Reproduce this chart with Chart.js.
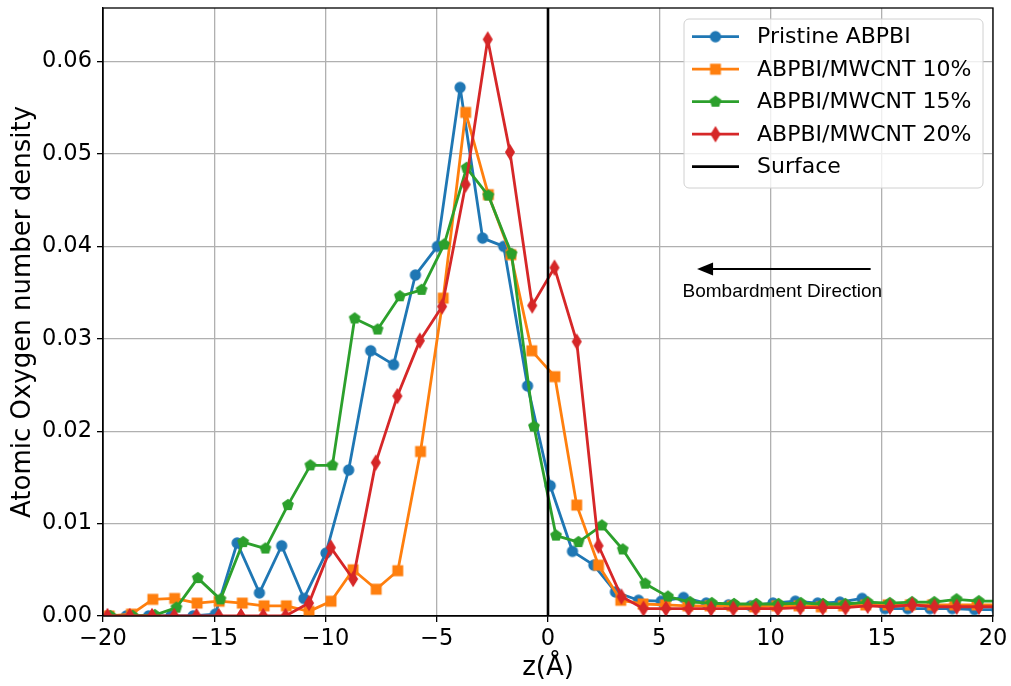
<!DOCTYPE html>
<html>
<head>
<meta charset="utf-8">
<script src="https://cdn.jsdelivr.net/npm/chart.js@4.4.0/dist/chart.umd.min.js"></script>
<style>
  html, body { margin: 0; padding: 0; background: #fff; }
  canvas { display: block; }
</style>
</head>
<body>
<canvas id="densityChart" width="1011" height="686"></canvas>
<script>
// series labels
const seriesLabels = ['Pristine ABPBI', 'ABPBI/MWCNT 10%', 'ABPBI/MWCNT 15%', 'ABPBI/MWCNT 20%'];
const surfaceLabel = 'Surface';

// z positions (Å) for each series
const zPristine = [-18.95, -17.95, -16.95, -15.95, -14.95, -13.97, -12.97, -11.97, -10.97, -9.98,
  -8.96, -7.97, -6.94, -5.96, -4.97, -3.95, -2.94, -1.99, -0.92, 0.1,
  1.1, 2.06, 3.03, 4.07, 5.09, 6.09, 7.11, 8.11, 9.11, 10.11,
  11.12, 12.12, 13.12, 14.12, 15.15, 16.17, 17.17, 18.17, 19.17, 20.17];
const zMw10 = [-19.72, -18.72, -17.76, -16.78, -15.77, -14.78, -13.74, -12.76, -11.76, -10.74,
  -9.75, -8.76, -7.72, -6.75, -5.73, -4.71, -3.7, -2.68, -1.67, -0.73,
  0.31, 1.29, 2.27, 3.27, 4.27, 5.28, 6.28, 7.28, 8.28, 9.28,
  10.28, 11.28, 12.28, 13.28, 14.28, 15.28, 16.28, 17.28, 18.28, 19.28, 20.28];
const zMw15 = [-19.67, -18.67, -17.67, -16.7, -15.74, -14.72, -13.7, -12.7, -11.69, -10.68,
  -9.69, -8.69, -7.66, -6.66, -5.68, -4.67, -3.66, -2.68, -1.64, -0.63,
  0.36, 1.37, 2.42, 3.36, 4.37, 5.39, 6.39, 7.36, 8.36, 9.36,
  10.36, 11.36, 12.36, 13.36, 14.36, 15.36, 16.36, 17.36, 18.36, 19.36, 20.36];
const zMw20 = [-19.8, -18.8, -17.8, -16.8, -15.8, -14.8, -13.8, -12.8, -11.8, -10.74,
  -9.76, -8.76, -7.74, -6.77, -5.76, -4.76, -3.7, -2.71, -1.71, -0.71,
  0.29, 1.29, 2.27, 3.3, 4.29, 5.3, 6.32, 7.33, 8.33, 9.33,
  10.33, 11.34, 12.35, 13.37, 14.37, 15.37, 16.37, 17.37, 18.37, 19.37, 20.37];

// atomic oxygen number density
const densPristine = [0, 0, 0, 0, 0.0002, 0.0079, 0.0025, 0.0076, 0.0019, 0.0068,
  0.0158, 0.0287, 0.0272, 0.0369, 0.0400, 0.0572, 0.0409, 0.0400, 0.0249, 0.0141,
  0.0070, 0.0055, 0.0026, 0.0017, 0.0016, 0.0020, 0.0014, 0.0012, 0.0011, 0.0014,
  0.0016, 0.0014, 0.0015, 0.0019, 0.0008, 0.0008, 0.0008, 0.0008, 0.0007, 0.0007];
const densMw10 = [0, 0.0002, 0.0018, 0.0019, 0.0014, 0.0016, 0.0014, 0.0011, 0.0011, 0.0005,
  0.0016, 0.0050, 0.0029, 0.0049, 0.0178, 0.0344, 0.0545, 0.0456, 0.0391, 0.0287,
  0.0259, 0.0120, 0.0055, 0.0017, 0.0013, 0.0012, 0.0011, 0.0011, 0.0011, 0.0010,
  0.0011, 0.0011, 0.0010, 0.0011, 0.0012, 0.0012, 0.0012, 0.0012, 0.0012, 0.0012, 0.0012];
const densMw15 = [0, 0, 0.0001, 0.0009, 0.0041, 0.0018, 0.0080, 0.0073, 0.0120, 0.0163,
  0.0163, 0.0322, 0.0310, 0.0346, 0.0353, 0.0402, 0.0485, 0.0455, 0.0392, 0.0205,
  0.0087, 0.0080, 0.0098, 0.0072, 0.0035, 0.0021, 0.0015, 0.0014, 0.0013, 0.0013,
  0.0013, 0.0014, 0.0013, 0.0013, 0.0015, 0.0014, 0.0015, 0.0015, 0.0018, 0.0016, 0.0016];
const densMw20 = [0, 0, 0, 0, 0, 0, 0, 0, 0, 0.0014,
  0.0074, 0.0040, 0.0166, 0.0238, 0.0298, 0.0335, 0.0467, 0.0624, 0.0502, 0.0336,
  0.0377, 0.0297, 0.0076, 0.0021, 0.0008, 0.0008, 0.0008, 0.0008, 0.0008, 0.0008,
  0.0008, 0.0009, 0.0009, 0.0009, 0.0011, 0.0010, 0.0012, 0.0010, 0.0010, 0.0010, 0.0010];

// surface at z = 0, drawn over the full y range
const surfaceZ = [0, 0];
const surfaceY = [0, 0.0658];

// annotation: arrow + text, in data coords
const arrowFrom = { x: 14.5, y: 0.03755 };
const arrowTo = { x: 6.7, y: 0.03755 };
const arrowText = { x: 10.53, y: 0.0351, text: 'Bombardment Direction' };

const colors = ['#1f77b4', '#ff7f0e', '#2ca02c', '#d62728'];

// marker images (matplotlib o, s, p, d)
function makeMarker(color, w, h, path) {
  const c = document.createElement('canvas');
  c.width = w; c.height = h;
  const g = c.getContext('2d');
  g.fillStyle = color; g.strokeStyle = color; g.lineWidth = 1.5; g.lineJoin = 'miter';
  g.beginPath();
  path(g, w / 2, h / 2);
  g.closePath();
  g.fill(); g.stroke();
  return c;
}
const markers = [
  makeMarker(colors[0], 16, 16, (g, cx, cy) => g.arc(cx, cy, 4.9, 0, Math.PI * 2)),
  makeMarker(colors[1], 16, 16, (g, cx, cy) => g.rect(cx - 4.7, cy - 4.7, 9.4, 9.4)),
  makeMarker(colors[2], 16, 16, (g, cx, cy) => {
    for (let i = 0; i < 5; i++) {
      const a = -Math.PI / 2 + i * 2 * Math.PI / 5;
      const px = cx + 5.3 * Math.cos(a), py = cy + 5.3 * Math.sin(a);
      if (i === 0) g.moveTo(px, py); else g.lineTo(px, py);
    }
  }),
  makeMarker(colors[3], 14, 18, (g, cx, cy) => {
    g.moveTo(cx, cy - 6.9); g.lineTo(cx + 4.2, cy); g.lineTo(cx, cy + 6.9); g.lineTo(cx - 4.2, cy);
  })
];

const pts = (xs, ys) => xs.map((x, i) => ({ x: x, y: ys[i] }));
const allZ = [zPristine, zMw10, zMw15, zMw20];
const allDens = [densPristine, densMw10, densMw15, densMw20];

const datasets = seriesLabels.map((label, i) => ({
  label: label,
  data: pts(allZ[i], allDens[i]),
  showLine: true,
  borderColor: colors[i],
  backgroundColor: colors[i],
  borderWidth: 2.8,
  borderJoinStyle: 'round',
  pointStyle: markers[i],
  pointRadius: 5,
  pointHoverRadius: 5,
  order: 4 - i,
  clip: 0
}));
datasets.push({
  label: surfaceLabel,
  data: pts(surfaceZ, surfaceY),
  showLine: true,
  borderColor: '#000',
  backgroundColor: '#000',
  borderWidth: 2.6,
  pointRadius: 0,
  order: 0,
  clip: 0
});

const overlay = {
  id: 'overlay',
  afterDatasetsDraw(chart) {
    const { ctx, chartArea: a } = chart;
    ctx.save();
    ctx.strokeStyle = '#000';
    ctx.lineWidth = 1.3;
    ctx.strokeRect(a.left, a.top, a.right - a.left, a.bottom - a.top);
    ctx.restore();
  },
  afterDraw(chart) {
    const { ctx, chartArea: a, scales } = chart;
    const xs = scales.x, ys = scales.y;

    // arrow
    const x0 = xs.getPixelForValue(arrowFrom.x), y0 = ys.getPixelForValue(arrowFrom.y);
    const x1 = xs.getPixelForValue(arrowTo.x);
    ctx.save();
    ctx.strokeStyle = '#000';
    ctx.fillStyle = '#000';
    ctx.lineWidth = 2;
    ctx.beginPath();
    ctx.moveTo(x0, y0); ctx.lineTo(x1 + 14, y0);
    ctx.stroke();
    ctx.beginPath();
    ctx.moveTo(x1, y0); ctx.lineTo(x1 + 16, y0 - 6.5); ctx.lineTo(x1 + 16, y0 + 6.5);
    ctx.closePath();
    ctx.fill();
    ctx.font = '19px "Liberation Sans", Arial, sans-serif';
    ctx.textAlign = 'center';
    ctx.textBaseline = 'middle';
    ctx.fillText(arrowText.text, xs.getPixelForValue(arrowText.x), ys.getPixelForValue(arrowText.y));
    ctx.restore();

    // legend box, upper right
    const bw = 299, bh = 169;
    const bx = a.right - 309, by = a.top + 11;
    ctx.save();
    ctx.beginPath();
    ctx.roundRect(bx, by, bw, bh, 5);
    ctx.fillStyle = 'rgba(255,255,255,0.8)';
    ctx.fill();
    ctx.strokeStyle = '#d0d0d0';
    ctx.lineWidth = 1;
    ctx.stroke();
    ctx.font = '22px "DejaVu Sans"';
    ctx.textBaseline = 'middle';
    ctx.textAlign = 'left';
    const labels = seriesLabels.concat([surfaceLabel]);
    labels.forEach((lab, i) => {
      const ry = by + 17.7 + i * 32.5;
      const col = i < 4 ? colors[i] : '#000';
      ctx.strokeStyle = col;
      ctx.lineWidth = 2.8;
      ctx.beginPath();
      ctx.moveTo(bx + 8, ry); ctx.lineTo(bx + 55, ry);
      ctx.stroke();
      if (i < 4) {
        const m = markers[i];
        ctx.drawImage(m, bx + 31.5 - m.width / 2, ry - m.height / 2);
      }
      ctx.fillStyle = '#000';
      ctx.fillText(lab, bx + 73, ry + 1);
    });
    ctx.restore();
  }
};

Chart.defaults.font.family = '"DejaVu Sans"';
Chart.defaults.color = '#000';

new Chart(document.getElementById('densityChart'), {
  type: 'scatter',
  data: { datasets: datasets },
  options: {
    responsive: false,
    animation: false,
    devicePixelRatio: 1,
    layout: { padding: { top: 8, right: 18, left: 0, bottom: 0 } },
    plugins: {
      legend: { display: false },
      tooltip: { enabled: false }
    },
    scales: {
      x: {
        type: 'linear',
        min: -20,
        max: 20,
        afterFit: s => { s.height = 70; s.paddingLeft = 0; s.paddingRight = 0; },
        ticks: {
          stepSize: 5,
          font: { size: 22.5 },
          padding: 4,
          maxRotation: 0,
          callback: v => (v < 0 ? '\u2212' + Math.abs(v) : String(v))
        },
        grid: { color: '#b0b0b0', lineWidth: 1.3, tickColor: '#000', tickLength: 6, tickWidth: 1.3 },
        border: { display: true, color: '#000', width: 1.3 },
        title: { display: true, text: 'z(Å)', font: { size: 26 }, padding: { top: 0, bottom: 2 } }
      },
      y: {
        type: 'linear',
        min: 0,
        max: 0.0658,
        afterFit: s => { s.width = 103; s.paddingTop = 0; s.paddingBottom = 0; },
        ticks: {
          stepSize: 0.01,
          includeBounds: false,
          font: { size: 22.5 },
          padding: 5,
          callback: v => v.toFixed(2)
        },
        grid: { color: '#b0b0b0', lineWidth: 1.3, tickColor: '#000', tickLength: 6, tickWidth: 1.3 },
        border: { display: true, color: '#000', width: 1.3 },
        title: { display: true, text: 'Atomic Oxygen number density', font: { size: 26 }, padding: { top: 8, bottom: 0 } }
      }
    }
  },
  plugins: [overlay]
});
</script>
</body>
</html>
